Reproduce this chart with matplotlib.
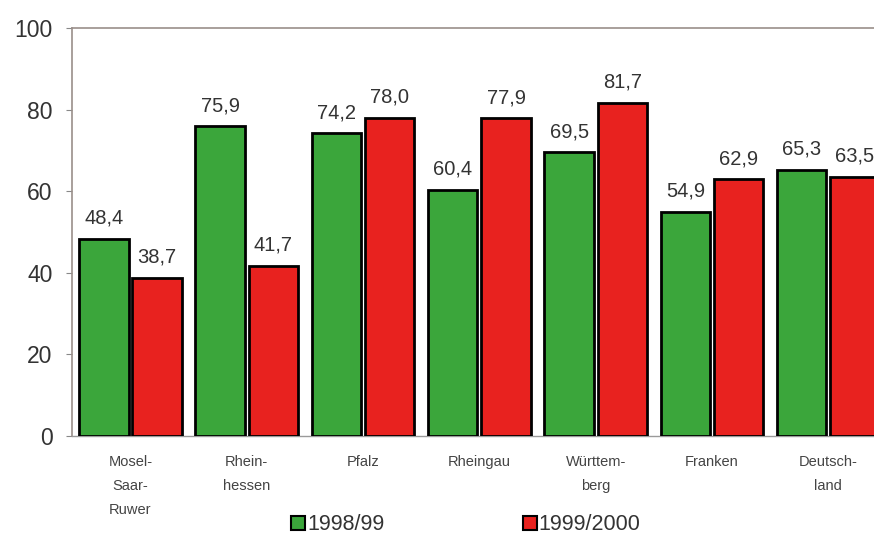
import matplotlib
matplotlib.use("Agg")
import matplotlib.pyplot as plt
from matplotlib.patches import Rectangle
import numpy as np

plt.rcParams["font.family"] = ["Liberation Sans", "DejaVu Sans"]

categories = ["Mosel-\nSaar-\nRuwer", "Rhein-\nhessen", "Pfalz", "Rheingau",
              "Württem-\nberg", "Franken", "Deutsch-\nland"]
series_names = ["1998/99", "1999/2000"]
values_9899 = [48.4, 75.9, 74.2, 60.4, 69.5, 54.9, 65.3]
values_9900 = [38.7, 41.7, 78.0, 77.9, 81.7, 62.9, 63.5]
yticks = [0, 20, 40, 60, 80, 100]

green = "#3ba63b"
red = "#e8221f"

fig = plt.figure(figsize=(8.74, 5.37), dpi=100)
ax = fig.add_axes([72/874, 101/537, 1 - 72/874, 408/537])

x = np.arange(len(categories))
w = 0.425
off = 0.229
b1 = ax.bar(x - off, values_9899, w, color=green, edgecolor="black", linewidth=2, zorder=3)
b2 = ax.bar(x + off, values_9900, w, color=red, edgecolor="black", linewidth=2, zorder=3)

def fmt(v):
    return f"{v:.1f}".replace(".", ",")

for bars, vals in ((b1, values_9899), (b2, values_9900)):
    for r, v in zip(bars, vals):
        ax.annotate(fmt(v), (r.get_x() + r.get_width()/2, v), xytext=(0, 8),
                    textcoords="offset points", ha="center", va="bottom",
                    fontsize=14.5, color="#333333")

ax.set_xlim(-0.503, 6.393)
ax.set_ylim(0, 100)
ax.set_yticks(yticks)
ax.set_yticklabels([str(t) for t in yticks], fontsize=16.5, color="#333333")
ax.tick_params(axis="y", length=4, color="#888888", pad=10)
ax.set_xticks(x)
ax.set_xticklabels(categories, fontsize=10.5, color="#444444", linespacing=1.9, va="top")
ax.tick_params(axis="x", length=0, pad=14)

ax.spines["right"].set_visible(False)
ax.spines["left"].set_color("#9a8f8a")
ax.spines["top"].set_color("#9a8f8a")
ax.spines["bottom"].set_color("#9a9a9a")
ax.spines["left"].set_linewidth(1.2)
ax.spines["top"].set_linewidth(1.2)
ax.spines["bottom"].set_linewidth(1.0)

handles = [Rectangle((0, 0), 1, 1, facecolor=green, edgecolor="black", linewidth=1.5),
           Rectangle((0, 0), 1, 1, facecolor=red, edgecolor="black", linewidth=1.5)]
fig.legend(handles, series_names, loc="center", bbox_to_anchor=(466/874, 1 - 525/537),
           ncol=2, frameon=False, fontsize=15.5, handlelength=0.65, handleheight=0.65,
           handletextpad=0.1, columnspacing=6.4, labelcolor="#333333")

fig.savefig("out.png", dpi=100)
